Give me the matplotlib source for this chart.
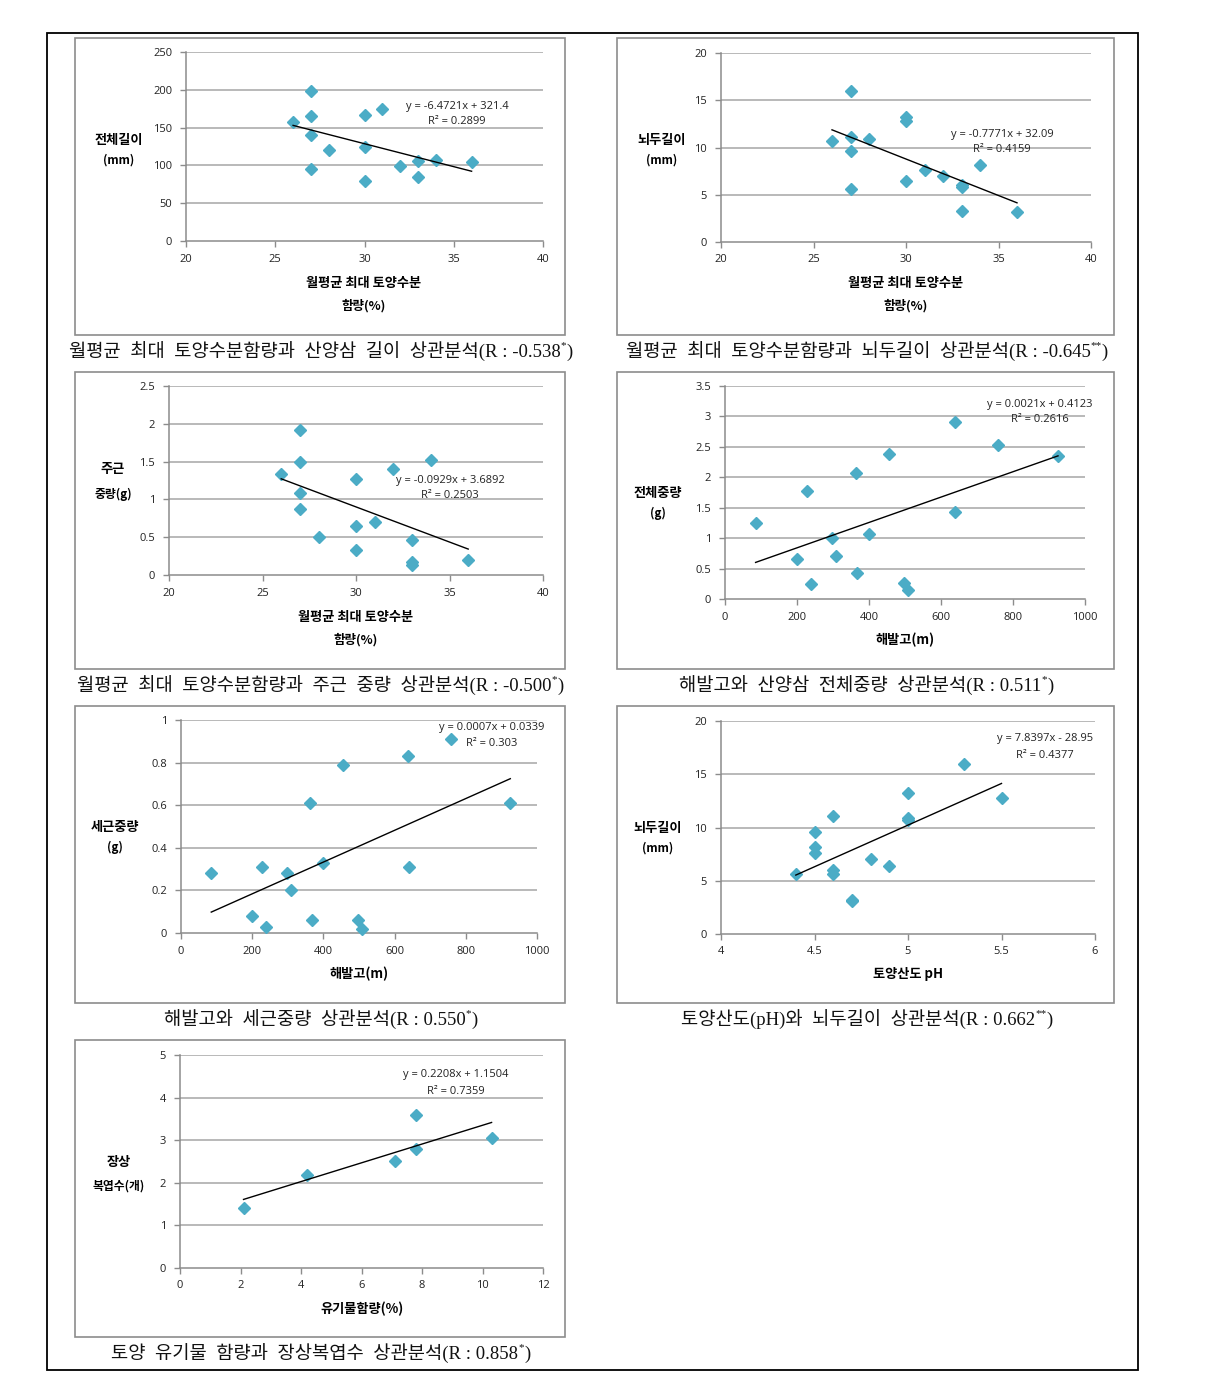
import numpy as np
import matplotlib.pyplot as plt
from matplotlib.patches import Rectangle

plt.rcParams['font.family'] = ['Open Sans', 'Noto Sans CJK KR', 'DejaVu Sans']

W, H = 1207, 1389

# ---- data ----
moist = [26, 27, 27, 27, 27, 28, 30, 30, 30, 31, 32, 33, 33, 34, 36]
total_len = [158, 199, 165, 140, 95, 120, 167, 124, 80, 174, 99, 106, 85, 107, 105]

moist2 = [26, 27, 27, 27, 27, 28, 30, 30, 30, 31, 32, 33, 33, 33, 34, 36]
head_len = [10.7, 16.0, 11.1, 9.6, 5.6, 10.9, 13.2, 12.8, 6.5, 7.6, 7.0, 5.8, 6.0, 3.3, 8.1, 3.2]
main_root = [1.34, 1.92, 1.50, 1.08, 0.87, 0.50, 1.27, 0.65, 0.33, 0.70, 1.40, 0.46, 0.17, 0.13, 1.52, 0.20]

elev = [85, 200, 228, 240, 298, 308, 363, 368, 400, 455, 498, 508, 638, 640, 758, 925]
total_wt = [1.25, 0.65, 1.77, 0.24, 1.01, 0.70, 2.07, 0.42, 1.07, 2.38, 0.26, 0.15, 2.91, 1.43, 2.53, 2.35]
fine_root = [0.28, 0.08, 0.31, 0.03, 0.28, 0.20, 0.61, 0.06, 0.33, 0.79, 0.06, 0.02, 0.83, 0.31, 0.91, 0.61]

ph = [4.4, 4.5, 4.5, 4.5, 4.6, 4.6, 4.6, 4.7, 4.7, 4.8, 4.9, 5.0, 5.0, 5.0, 5.3, 5.5]
head_len_ph = [5.6, 9.6, 8.2, 7.6, 11.1, 6.0, 5.6, 3.2, 3.1, 7.0, 6.4, 13.2, 10.9, 10.7, 16.0, 12.8]

organic = [2.1, 4.2, 7.1, 7.8, 7.8, 10.3]
leaves = [1.40, 2.18, 2.52, 3.60, 2.80, 3.04]

equations = [
    ("y = -6.4721x + 321.4", "R² = 0.2899"),
    ("y = -0.7771x + 32.09", "R² = 0.4159"),
    ("y = -0.0929x + 3.6892", "R² = 0.2503"),
    ("y = 0.0021x + 0.4123", "R² = 0.2616"),
    ("y = 0.0007x + 0.0339", "R² = 0.303"),
    ("y = 7.8397x - 28.95", "R² = 0.4377"),
    ("y = 0.2208x + 1.1504", "R² = 0.7359"),
]

captions = [
    ("월평균  최대  토양수분함량과  산양삼  길이  상관분석(R : -0.538", "*"),
    ("월평균  최대  토양수분함량과  뇌두길이  상관분석(R : -0.645", "**"),
    ("월평균  최대  토양수분함량과  주근  중량  상관분석(R : -0.500", "*"),
    ("해발고와  산양삼  전체중량  상관분석(R : 0.511", "*"),
    ("해발고와  세근중량  상관분석(R : 0.550", "*"),
    ("토양산도(pH)와  뇌두길이  상관분석(R : 0.662", "**"),
    ("토양  유기물  함량과  장상복엽수  상관분석(R : 0.858", "*"),
]

fig = plt.figure(figsize=(W / 100, H / 100), dpi=100)
renderer = fig.canvas.get_renderer()


def fx(px):
    return px / W


def fy(py):
    return 1 - py / H


# outer border
fig.add_artist(Rectangle((fx(47), fy(1370)), fx(1138) - fx(47), fy(33) - fy(1370),
                         transform=fig.transFigure, fill=False, ec='black', lw=1.3))

# panel boxes (left, top, right, bottom) in pixels
boxes = [(75, 38, 565, 335), (617, 38, 1114, 335),
         (75, 372, 565, 669), (617, 372, 1114, 669),
         (75, 706, 565, 1003), (617, 706, 1114, 1003),
         (75, 1040, 565, 1337)]
for l, t, r, b in boxes:
    fig.add_artist(Rectangle((fx(l), fy(b)), fx(r) - fx(l), fy(t) - fy(b),
                             transform=fig.transFigure, fill=False, ec='#8c8c8c', lw=1.2))

# plot areas (left, top, right, bottom) in pixels
areas = [(186, 52, 543, 241), (721, 53, 1091, 242),
         (169, 386, 543, 575), (725, 386, 1085, 599),
         (181, 720, 537, 933), (721, 721, 1095, 934),
         (180, 1055, 543, 1268)]

series = [(moist, total_len), (moist2, head_len), (moist2, main_root),
          (elev, total_wt), (elev, fine_root), (ph, head_len_ph), (organic, leaves)]
xlims = [(20, 40, 5), (20, 40, 5), (20, 40, 5), (0, 1000, 200), (0, 1000, 200), (4, 6, 0.5), (0, 12, 2)]
ylims = [(0, 250, 50), (0, 20, 5), (0, 2.5, 0.5), (0, 3.5, 0.5), (0, 1, 0.2), (0, 20, 5), (0, 5, 1)]

ylabels = [("전체길이", "(mm)", 119, 140, 160), ("뇌두길이", "(mm)", 662, 140, 160),
           ("주근", "중량(g)", 113, 469, 494), ("전체중량", "(g)", 658, 493, 513),
           ("세근중량", "(g)", 115, 827, 847), ("뇌두길이", "(mm)", 658, 828, 848),
           ("장상", "복엽수(개)", 119, 1162, 1186)]
xlabels = [(["월평균 최대 토양수분", "함량(%)"], 364, [283, 306]),
           (["월평균 최대 토양수분", "함량(%)"], 906, [283, 306]),
           (["월평균 최대 토양수분", "함량(%)"], 356, [617, 640]),
           (["해발고(m)"], 905, [640]),
           (["해발고(m)"], 359, [974]),
           (["토양산도 pH"], 908, [974]),
           (["유기물함량(%)"], 362, [1309])]
eq_pos = [(457, 106), (1002, 134), (450, 480), (1040, 404), (492, 727), (1045, 739), (456, 1075)]
cap_pos = [(320, 352), (866, 352), (320, 686), (866, 686), (320, 1020), (866, 1020), (320, 1354)]

cap_family = ['Liberation Serif', 'Noto Sans CJK KR']
cap_size = 13.5

for i in range(7):
    l, t, r, b = areas[i]
    ax = fig.add_axes([fx(l), fy(b), fx(r) - fx(l), fy(t) - fy(b)])
    xs, ys = series[i]
    x0, x1, dx = xlims[i]
    y0, y1, dy = ylims[i]
    ax.set_xlim(x0, x1)
    ax.set_ylim(y0, y1)
    xt = np.arange(x0, x1 + dx / 2, dx)
    yt = np.arange(y0, y1 + dy / 2, dy)
    ax.set_xticks(xt)
    ax.set_yticks(yt)
    ax.set_xticklabels(['%g' % round(v, 2) for v in xt])
    ax.set_yticklabels(['%g' % round(v, 2) for v in yt])
    for v in yt[1:]:
        ax.axhline(v, color='#a6a6a6', lw=1.1, zorder=1)
    for s in ['top', 'right']:
        ax.spines[s].set_visible(False)
    for s in ['left', 'bottom']:
        ax.spines[s].set_color('#8c8c8c')
        ax.spines[s].set_linewidth(1.1)
    ax.tick_params(axis='both', direction='out', length=4, width=1, color='#8c8c8c',
                   labelsize=8, labelcolor='#222222')
    ax.tick_params(axis='y', pad=6)
    ax.tick_params(axis='x', pad=5)
    ax.patch.set_alpha(0)

    ax.plot(xs, ys, 'D', color='#4bacc6', ms=6, mec='#4bacc6', zorder=3, clip_on=False)
    k, c = np.polyfit(xs, ys, 1)
    xx = np.array([min(xs), max(xs)])
    ax.plot(xx, k * xx + c, color='black', lw=1.0, zorder=4)

    # equation text
    ex, ey = eq_pos[i]
    fig.text(fx(ex), fy(ey), equations[i][0], ha='center', va='center', fontsize=8, color='#222222')
    fig.text(fx(ex), fy(ey + 16), equations[i][1], ha='center', va='center', fontsize=8, color='#222222')

    # y label
    t1, t2, lx, ly1, ly2 = ylabels[i]
    fig.text(fx(lx), fy(ly1), t1, ha='center', va='center', fontsize=9.5, fontweight='bold',
             family=['Noto Sans CJK KR', 'DejaVu Sans'])
    fig.text(fx(lx), fy(ly2), t2, ha='center', va='center', fontsize=8.5, fontweight='bold',
             family=['Noto Sans CJK KR', 'DejaVu Sans'])

    # x label
    lines, cx, cys = xlabels[i]
    for j, (txt, cy) in enumerate(zip(lines, cys)):
        fig.text(fx(cx), fy(cy), txt, ha='center', va='center',
                 fontsize=9.5 if j == 0 else 9, fontweight='bold',
                 family=['Noto Sans CJK KR', 'DejaVu Sans'])

    # caption: main text, superscript stars, closing bracket
    px, py = cap_pos[i]
    main, star = captions[i]
    probe = fig.text(0, 0, main, fontsize=cap_size, family=cap_family)
    w_main = probe.get_window_extent(renderer=renderer).width
    probe.remove()
    w_total = w_main + 5 * len(star) + 6
    x_left = px - w_total / 2
    fig.text(fx(x_left), fy(py), main, ha='left', va='center', fontsize=cap_size,
             family=cap_family, color='#111111')
    fig.text(fx(x_left + w_main), fy(py - 6), star, ha='left', va='center', fontsize=8,
             family=['Liberation Serif'], color='#111111')
    fig.text(fx(x_left + w_main + 5 * len(star) + 1), fy(py), ")", ha='left', va='center',
             fontsize=cap_size, family=['Liberation Serif'], color='#111111')

fig.savefig('out.png', dpi=100)
